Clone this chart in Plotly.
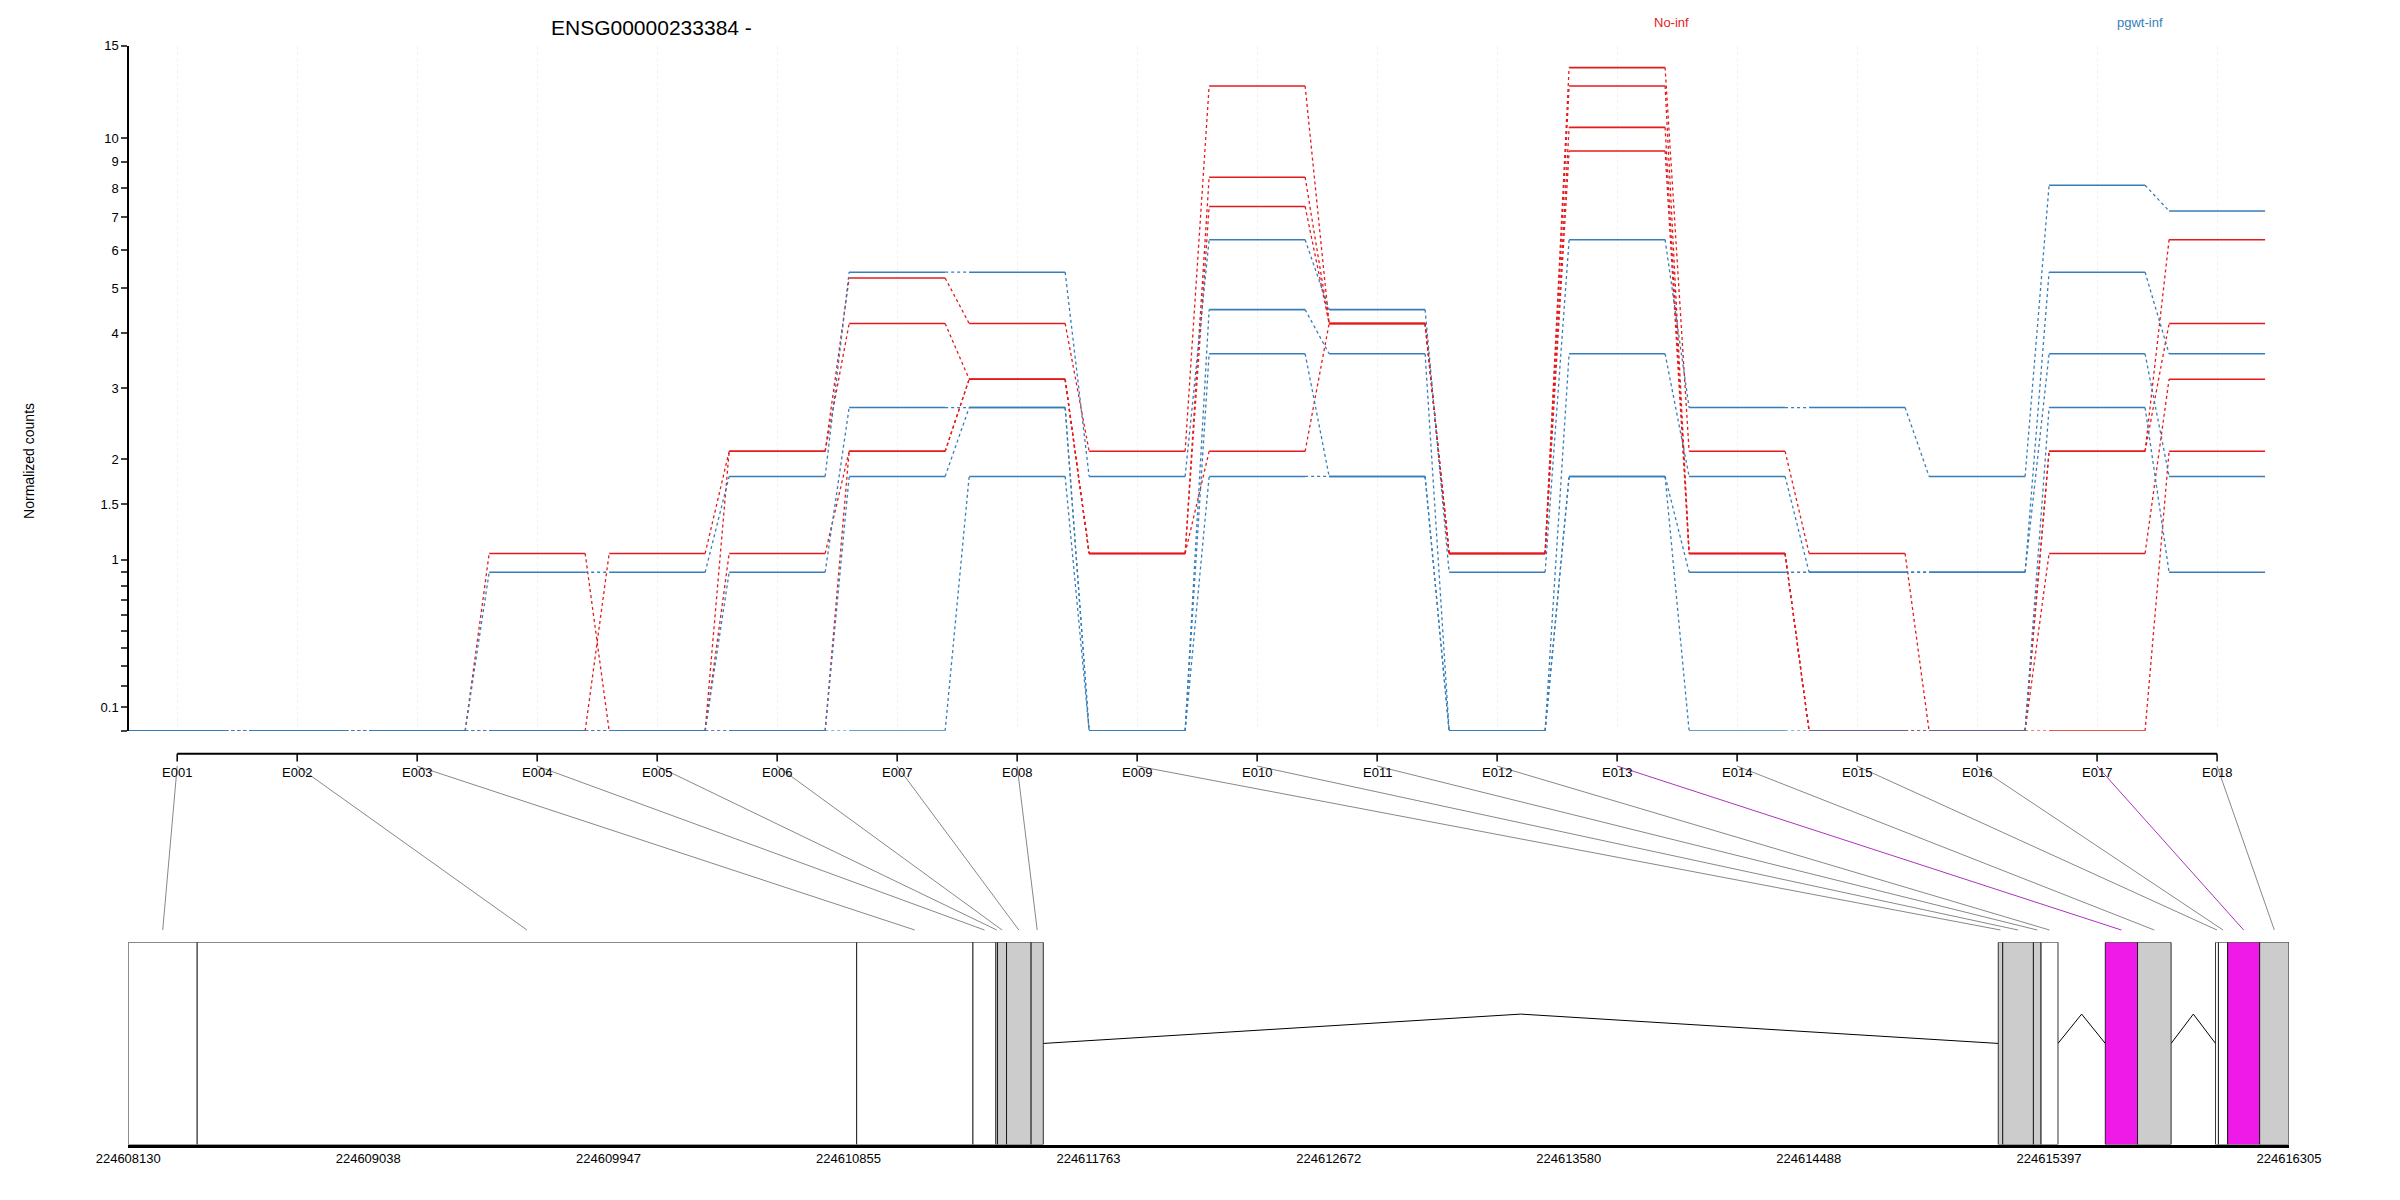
import math
import plotly.graph_objects as go

gene_title = "ENSG00000233384 -"
exons = [f"E{i:03d}" for i in range(1, 19)]

# normalized counts per exon (4 samples per condition)
red_vals = [
    [0, 0, 0, 0], [0, 0, 0, 0], [0, 0, 0, 0],
    [1.05, 0, 0, 0], [0, 1.05, 0, 0], [2.1, 2.1, 1.05, 0],
    [5.25, 4.2, 2.1, 2.1], [4.2, 3.15, 3.15, 3.15], [2.1, 1.05, 1.05, 1.05],
    [12.6, 8.4, 7.35, 2.1], [4.2, 4.2, 4.2, 4.2], [1.05, 1.05, 1.05, 1.05],
    [13.65, 12.6, 10.5, 9.45], [2.1, 1.05, 1.05, 1.05], [1.05, 0, 0, 0],
    [0, 0, 0, 0], [2.1, 2.1, 1.05, 0], [6.3, 4.2, 3.15, 2.1],
]
blue_vals = [
    [0, 0, 0, 0], [0, 0, 0, 0], [0, 0, 0, 0],
    [0.9, 0, 0, 0], [0.9, 0, 0, 0], [1.8, 0.9, 0, 0],
    [5.4, 2.7, 1.8, 0], [5.4, 2.7, 2.7, 1.8], [1.8, 0, 0, 0],
    [6.3, 4.5, 3.6, 1.8], [4.5, 3.6, 1.8, 1.8], [0.9, 0, 0, 0],
    [6.3, 3.6, 1.8, 1.8], [2.7, 1.8, 0.9, 0], [2.7, 0.9, 0.9, 0],
    [1.8, 0.9, 0.9, 0], [8.1, 5.4, 3.6, 2.7], [7.2, 3.6, 1.8, 0.9],
]
cond_names = ["No-inf", "pgwt-inf"]
cond_colors = ["#E41A1C", "#377EB8"]

ytick_vals = [0, 0.1, 0.2, 0.3, 0.4, 0.5, 0.6, 0.7, 0.8, 0.9, 1, 1.5, 2, 3, 4, 5, 6, 7, 8, 9, 10, 15]
ytick_labels = ["", "0.1", "", "", "", "", "", "", "", "", "1", "1.5", "2", "3", "4", "5", "6", "7", "8", "9", "10", "15"]

# gene model
ex_start = [224608130, 224608391, 224610886, 224611326, 224611413, 224611419, 224611453, 224611546,
            224615205, 224615222, 224615338, 224615367, 224615610, 224615732, 224616027, 224616038,
            224616073, 224616194]
ex_end = [224608391, 224610886, 224611326, 224611413, 224611419, 224611453, 224611546, 224611592,
          224615222, 224615338, 224615367, 224615431, 224615732, 224615859, 224616038, 224616073,
          224616194, 224616305]
ex_fill = ["white"] * 5 + ["#CCCCCC"] * 3 + ["#CCCCCC"] * 3 + ["white", "#F01AE8", "#CCCCCC", "white", "white", "#F01AE8", "#CCCCCC"]
introns = [(224611592, 224615205), (224615431, 224615610), (224615859, 224616027)]
g_ticks = [224608130, 224609038, 224609947, 224610855, 224611763, 224612672, 224613580, 224614488, 224615397, 224616305]

W, H = 1550.0, 775.0
def px(x): return ((x - 28) / 0.984) / W
def py(y): return 1 - ((y - 9.9) / 1.0045) / H

t = lambda v: math.log10(v + 1)

fig = go.Figure()
for vals, col in ((red_vals, cond_colors[0]), (blue_vals, cond_colors[1])):
    for s in range(4):
        xs, ys, xd, yd = [], [], [], []
        for i in range(18):
            v = t(vals[i][s])
            xs += [i + 1 - 0.4, i + 1 + 0.4, None]
            ys += [v, v, None]
            if i < 17:
                xd += [i + 1 + 0.4, i + 2 - 0.4, None]
                yd += [v, t(vals[i + 1][s]), None]
        fig.add_trace(go.Scatter(x=xs, y=ys, mode="lines", line=dict(color=col, width=1.6),
                                 showlegend=False, hoverinfo="skip", xaxis="x", yaxis="y"))
        fig.add_trace(go.Scatter(x=xd, y=yd, mode="lines", line=dict(color=col, width=1.3, dash="dot"),
                                 showlegend=False, hoverinfo="skip", xaxis="x", yaxis="y"))

# top axes geometry (in reference-picture pixels)
x_left_px, first_px, last_px = 85, 117, 1450
unit_px = (last_px - first_px) / 17
xr = [1 - (first_px - x_left_px) / unit_px, 18.45]
xdom = [px(x_left_px), px(last_px + 0.45 * unit_px)]

g0, g1 = 224608130, 224616305
gx0, gx1 = 85, 1497
def gpaper(g): return px(gx0 + (g - g0) / (g1 - g0) * (gx1 - gx0))
def epaper(i): return px(first_px + (i - 1) * unit_px)

for k in range(18):
    fig.add_shape(type="rect", xref="x2", yref="y2", x0=ex_start[k], x1=ex_end[k], y0=0, y1=1,
                  fillcolor=ex_fill[k], line=dict(color="black", width=0.8), layer="above")
    sig = ex_fill[k] == "#F01AE8"
    fig.add_shape(type="line", xref="paper", yref="paper",
                  x0=epaper(k + 1), y0=py(500), x1=gpaper((ex_start[k] + ex_end[k]) / 2), y1=py(607),
                  line=dict(color="#B030C0" if sig else "#888888", width=1))
for a, b in introns:
    fig.add_trace(go.Scatter(x=[a, (a + b) / 2, b], y=[0.5, 0.645, 0.5], mode="lines",
                             line=dict(color="black", width=1), showlegend=False, hoverinfo="skip",
                             xaxis="x2", yaxis="y2"))

fig.add_shape(type="line", xref="x", yref="paper", x0=1, x1=18, y0=py(492), y1=py(492),
              line=dict(color="black", width=2))
for i, e in enumerate(exons):
    fig.add_shape(type="line", xref="x", yref="paper", x0=i + 1, x1=i + 1, y0=py(492), y1=py(497),
                  line=dict(color="black", width=1.5))
    fig.add_annotation(x=i + 1, xref="x", y=py(498), yref="paper", text=e, showarrow=False,
                       yanchor="top", font=dict(size=13, color="black"))

fig.add_annotation(x=px(360), y=py(18), xref="paper", yref="paper", text=gene_title, showarrow=False,
                   yanchor="middle", font=dict(size=21, color="black"))
for nm, col, xp in zip(cond_names, cond_colors, [1106, 1416]):
    fig.add_annotation(x=px(xp), y=py(15), xref="paper", yref="paper", text=nm, showarrow=False,
                       yanchor="middle", font=dict(size=13, color=col))
fig.add_annotation(x=px(14), y=py(262), xref="paper", yref="paper", text="Normalized counts",
                   textangle=-90, showarrow=False, font=dict(size=14, color="black"))

fig.update_layout(
    width=2400, height=1200, margin=dict(l=0, r=0, t=0, b=0),
    paper_bgcolor="white", plot_bgcolor="white",
    font=dict(family="Liberation Sans, Arial, sans-serif", color="black"),
    xaxis=dict(domain=xdom, range=xr, tickvals=list(range(1, 19)), showticklabels=False, ticks="",
               showgrid=True, gridcolor="#F2F0F6", griddash="dot", zeroline=False, showline=False,
               anchor="y"),
    yaxis=dict(domain=[py(477), py(30)], range=[0, math.log10(16)], tickvals=[t(v) for v in ytick_vals],
               ticktext=ytick_labels, ticks="outside", ticklen=6, tickwidth=1.5, showline=True,
               linecolor="black", linewidth=2, showgrid=False, zeroline=False, anchor="free",
               position=xdom[0], tickfont=dict(size=13)),
    xaxis2=dict(domain=[px(gx0), px(gx1)], range=[g0, g1], tickvals=g_ticks, ticktext=[str(g) for g in g_ticks],
                showline=True, linecolor="black", linewidth=3, ticks="", showgrid=False, zeroline=False,
                anchor="y2", tickfont=dict(size=13)),
    yaxis2=dict(domain=[py(747), py(615)], range=[0, 1], visible=False, anchor="x2"),
)
fig.write_html("out.html")
